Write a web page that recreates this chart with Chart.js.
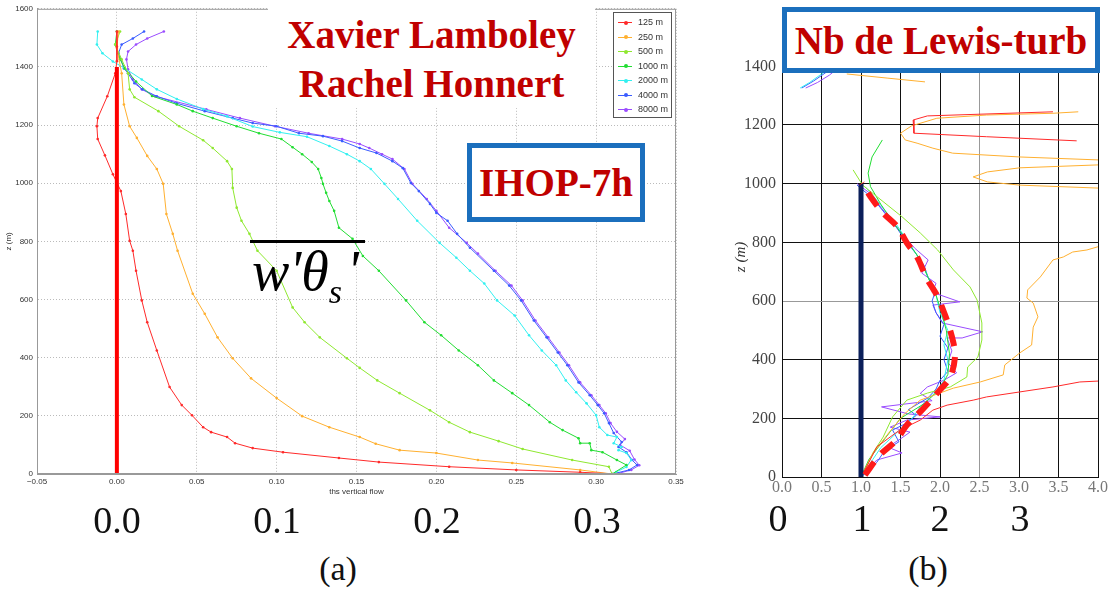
<!DOCTYPE html>
<html>
<head>
<meta charset="utf-8">
<script src="https://cdn.jsdelivr.net/npm/chart.js@4"></script>
<style>
body { margin: 0; background: #fff; }
#page { position: relative; width: 1112px; height: 589px; overflow: hidden; font-family: 'Liberation Serif', serif; }
canvas { position: absolute; }
.ovl { position: absolute; white-space: nowrap; }
.title { color: #c00000; font: bold 39px 'Liberation Serif', serif; }
.box { position: absolute; box-sizing: border-box; border: 5px solid #1b6fbd; background: #fff; display: flex; align-items: center; justify-content: center; }
.big { font: 38px 'Liberation Serif', serif; color: #111; line-height: 1; transform: translateX(-50%); }
</style>
</head>
<body>
<div id="page">
  <canvas id="fluxChart" width="690" height="500" style="left:0;top:0"></canvas>
  <canvas id="lewisChart" width="392" height="510" style="left:720px;top:0"></canvas>

  <div class="ovl" style="left:268px;top:0;width:327px;height:108px;background:#fff"></div>
  <div class="ovl title" style="left:268px;top:10px;width:327px;text-align:center;line-height:49px">Xavier Lamboley<br>Rachel Honnert</div>

  <div class="box" style="left:467px;top:143px;width:178px;height:79px"><span class="title" style="line-height:1">IHOP-7h</span></div>
  <div class="box" style="left:782px;top:7px;width:318px;height:66px"><span class="title" style="line-height:1">Nb de Lewis-turb</span></div>

  <div class="ovl" style="left:250px;top:240px;width:115px;height:3px;background:#000"></div>
  <div class="ovl" style="left:252px;top:243px;font:italic 56px 'Liberation Serif',serif;line-height:1">w'θ<span style="font-size:34px;position:relative;top:13px">s</span>&#8202;'</div>

  <div id="legendA" class="ovl" style="left:613px;top:12px;width:57px;height:104px;border:1px solid #555;background:#fff"></div>
  <div id="bottomLabels"></div>
</div>
<script>
// panel (a): vertical heat flux profiles, [flux, z]
const flux125 = [[0.000,1522],[0.000,1470],[0.000,1420],[-0.001,1378],[-0.006,1299],[-0.012,1224],[-0.0125,1196],[-0.012,1152],[-0.0075,1096],[-0.0025,1031],[0.0025,973],[0.0056,894],[0.008,802],[0.010,768],[0.012,699],[0.0156,597],[0.019,522],[0.025,425],[0.033,299],[0.0406,237],[0.047,202],[0.054,161],[0.059,144],[0.069,127],[0.074,106],[0.085,89],[0.104,75],[0.139,55],[0.164,41],[0.208,25],[0.25,14],[0.29,6],[0.313,0]];
const flux250 = [[0.001,1522],[0.000,1465],[0.003,1378],[0.0044,1271],[0.008,1196],[0.0125,1156],[0.019,1094],[0.025,1049],[0.029,998],[0.031,894],[0.035,826],[0.038,768],[0.0475,620],[0.055,551],[0.063,470],[0.0725,398],[0.084,329],[0.1,261],[0.116,199],[0.133,161],[0.152,127],[0.162,104],[0.177,82],[0.2,72],[0.226,48],[0.2475,38],[0.29,14],[0.31,0]];
const flux500 = [[0.002,1522],[-0.001,1477],[0.003,1426],[0.007,1378],[0.008,1323],[0.011,1296],[0.026,1248],[0.039,1196],[0.054,1148],[0.06,1121],[0.069,1076],[0.072,1049],[0.0725,984],[0.075,916],[0.078,871],[0.083,826],[0.088,768],[0.1,699],[0.11,573],[0.1175,522],[0.127,470],[0.144,398],[0.152,365],[0.163,322],[0.177,278],[0.196,219],[0.208,178],[0.221,144],[0.239,113],[0.254,86],[0.285,48],[0.308,25],[0.31,0]];
const flux1000 = [[0.000,1522],[-0.001,1477],[0.002,1426],[0.005,1395],[0.012,1350],[0.022,1300],[0.0375,1271],[0.0475,1248],[0.06,1224],[0.075,1196],[0.089,1172],[0.103,1152],[0.11,1124],[0.116,1100],[0.122,1073],[0.126,1049],[0.128,1018],[0.129,998],[0.131,967],[0.133,939],[0.136,905],[0.139,847],[0.1475,809],[0.154,750],[0.164,699],[0.181,597],[0.1925,522],[0.203,477],[0.214,425],[0.226,374],[0.236,322],[0.2475,278],[0.258,237],[0.271,178],[0.279,151],[0.289,123],[0.29,106],[0.296,106],[0.297,82],[0.304,75],[0.313,48],[0.319,31],[0.31,0]];
const flux2000 = [[-0.012,1522],[-0.0125,1477],[-0.009,1447],[-0.0025,1419],[0.005,1395],[0.0156,1357],[0.025,1323],[0.0375,1290],[0.054,1255],[0.069,1230],[0.085,1195],[0.102,1175],[0.119,1160],[0.133,1128],[0.144,1100],[0.152,1076],[0.159,1049],[0.1675,998],[0.176,946],[0.188,871],[0.202,795],[0.2125,744],[0.221,699],[0.23,655],[0.238,597],[0.249,545],[0.258,477],[0.266,425],[0.275,374],[0.281,322],[0.2875,281],[0.294,243],[0.3,202],[0.302,161],[0.307,134],[0.313,127],[0.311,106],[0.316,93],[0.314,82],[0.319,72],[0.322,48],[0.319,24],[0.3125,7],[0.31,0]];
const flux4000 = [[0.017,1522],[0.01,1498],[0.003,1477],[0.001,1447],[0.0025,1426],[0.0044,1395],[0.007,1378],[0.011,1344],[0.016,1323],[0.025,1299],[0.0375,1275],[0.055,1248],[0.0725,1224],[0.085,1207],[0.1,1196],[0.114,1172],[0.129,1162],[0.141,1145],[0.152,1121],[0.1625,1104],[0.1725,1076],[0.179,1052],[0.184,1001],[0.189,973],[0.196,929],[0.2,898],[0.207,871],[0.213,826],[0.221,778],[0.236,699],[0.2456,648],[0.253,597],[0.261,528],[0.269,470],[0.276,418],[0.282,374],[0.289,315],[0.296,271],[0.301,237],[0.305,209],[0.308,175],[0.311,141],[0.316,110],[0.314,93],[0.319,75],[0.3225,48],[0.3256,31],[0.3206,14],[0.3125,3]];
const flux8000 = [[0.0294,1522],[0.019,1498],[0.012,1477],[0.007,1453],[0.006,1426],[0.007,1392],[0.01,1357],[0.0156,1323],[0.024,1299],[0.056,1254],[0.077,1224],[0.099,1196],[0.12,1172],[0.141,1152],[0.152,1135],[0.158,1121],[0.166,1100],[0.1725,1083],[0.18,1049],[0.185,998],[0.194,946],[0.2,905],[0.208,847],[0.219,795],[0.226,758],[0.237,699],[0.247,648],[0.254,597],[0.262,528],[0.27,470],[0.277,418],[0.283,374],[0.29,315],[0.297,271],[0.302,237],[0.306,209],[0.309,175],[0.313,145],[0.318,120],[0.315,100],[0.321,80],[0.324,50],[0.327,30],[0.322,14],[0.314,2]];
const fluxZero = [[0,0],[0,1400]];

// panel (b): turbulent Lewis number, [ratio, z]; null = break in the line
const lewisFit = [[1.05,7],[1.24,75],[1.45,126],[1.58,177],[1.77,228],[2.0,297],[2.13,341],[2.19,409],[2.17,457],[2.1,525],[2.04,569],[1.96,620],[1.83,678],[1.71,750],[1.58,798],[1.46,853],[1.28,900],[1.15,944],[1.01,1002]];
const lewisOne = [[1,0],[1,1000]];
const lewis125 = [[1.0,0],[1.1,50],[1.2,103],[1.49,160],[1.75,194],[1.91,228],[2.09,245],[2.42,262],[2.59,273],[3.01,290],[3.43,307],[3.77,324],[4.0,327],null,[3.43,1245],[1.84,1231],[1.66,1217],[1.67,1172],[2.59,1160],[3.73,1146]];
const lewis250 = [[1.0,0],[1.15,80],[1.35,150],[1.55,215],[1.75,262],[2.17,303],[2.51,324],[2.8,348],[2.82,382],[3.01,423],[3.16,450],[3.18,511],[3.24,546],[3.18,593],[3.1,610],[3.11,638],[3.27,682],[3.43,740],[3.56,750],[3.68,767],[3.86,774],[4.0,785],null,[4.0,985],[3.01,995],[2.6,1006],[2.42,1023],[2.6,1040],[3.01,1054],[4.0,1064],null,[4.0,1081],[3.01,1091],[2.16,1104],[1.91,1121],[1.71,1138],[1.56,1149],[1.5,1172],[1.64,1197],[1.96,1223],[2.59,1234],[3.43,1240],[3.75,1245],null,[0.82,1374],[1.33,1360],[1.81,1347]];
const lewis500 = [[1.05,7],[1.07,34],[1.15,82],[1.28,136],[1.4,205],[1.58,262],[1.84,286],[2.13,307],[2.34,341],[2.35,375],[2.48,409],[2.53,467],[2.53,525],[2.47,603],[2.38,648],[2.17,706],[1.97,774],[1.75,832],[1.52,887],[1.02,995],[0.9,1047]];
const lewis1000 = [[1.0,0],[1.1,60],[1.3,130],[1.5,200],[1.8,250],[2.0,300],[2.1,350],[2.12,420],[2.08,500],[2.02,560],[1.95,620],[1.85,680],[1.75,740],[1.6,800],[1.4,870],[1.25,930],[1.12,990],[1.09,1036],[1.14,1091],[1.27,1149]];
const lewis2000 = [[1.0,0],[1.15,60],[1.25,100],[1.45,150],[1.65,200],[1.75,240],[1.95,290],[2.05,330],[2.1,400],[2.05,450],[2.1,500],[2.0,560],[1.95,620],[1.85,680],[1.75,740],[1.6,800],[1.45,860],[1.3,910],[1.15,960],[1.05,990],null,[0.23,1326],[0.35,1345],[0.48,1370],[0.61,1394]];
const lewis4000 = [[1.0,0],[1.2,50],[1.3,90],[1.48,120],[1.4,160],[1.55,180],[1.7,210],[1.6,230],[1.85,270],[1.95,300],[2.0,330],[2.1,360],[2.05,400],[2.1,440],[2.0,480],[2.05,520],[1.95,560],[1.9,600],[1.95,640],[1.85,680],[1.8,720],[1.7,760],[1.58,800],[1.45,850],[1.3,900],[1.15,950],[0.95,995],null,[0.25,1326],[0.4,1350],[0.55,1378],[0.65,1395]];
const lewis8000 = [[1.0,0],[1.2,58],[1.52,82],[1.34,102],[1.5,130],[1.62,153],[1.37,170],[1.58,194],[2.0,205],[1.6,215],[1.26,239],[1.9,260],[1.75,285],[1.84,307],[2.05,330],[2.21,355],[2.1,390],[2.15,430],[2.09,474],[2.28,474],[2.54,495],[2.03,525],[1.95,560],[1.91,586],[2.25,597],[1.9,630],[1.95,660],[1.77,695],[1.85,740],[1.68,780],[1.55,820],[1.4,870],[1.25,920],[1.1,970],[0.95,1000],null,[0.3,1326],[0.45,1345],[0.6,1370],[0.7,1392]];

const resolutions = ['125 m', '250 m', '500 m', '1000 m', '2000 m', '4000 m', '8000 m'];
const colors = ['#ff2a2a', '#ffb030', '#8fe830', '#22dd33', '#33f0f0', '#3a5cff', '#9a4cff'];
const bigTicksA = ['0.0', '0.1', '0.2', '0.3'];
const bigTicksB = ['0', '1', '2', '3'];

const toPts = arr => arr.map(p => p ? {x: p[0], y: p[1]} : {x: null, y: null});

function series(data, color, extra) {
    return Object.assign({
        data: toPts(data),
        borderColor: color,
        backgroundColor: color,
        showLine: true,
        borderWidth: 1,
        pointRadius: 0,
        tension: 0,
        spanGaps: false
    }, extra);
}

// thin frame round the plot area
const frame = {
    id: 'frame',
    afterDraw(chart, args, opts) {
        if (!opts.color) return;
        const {ctx, chartArea: a} = chart;
        ctx.save();
        ctx.strokeStyle = opts.color;
        ctx.lineWidth = 1;
        ctx.strokeRect(a.left + 0.5, a.top + 0.5, a.width - 1, a.height - 1);
        ctx.restore();
    }
};

const smallFont = {family: "'Liberation Sans', sans-serif", size: 8};
const fluxSets = [flux125, flux250, flux500, flux1000, flux2000, flux4000, flux8000];

new Chart(document.getElementById('fluxChart'), {
    type: 'scatter',
    data: {
        datasets: [series(fluxZero, '#ff0000', {borderWidth: 4})].concat(
            fluxSets.map((d, i) => series(d, colors[i], {
                label: resolutions[i], pointRadius: 1.3, pointBorderWidth: 0
            })))
    },
    options: {
        responsive: false,
        animation: false,
        layout: {padding: {top: 8, right: 14, left: 0, bottom: 0}},
        plugins: {legend: {display: false}, tooltip: {enabled: false}, frame: {color: '#999'}},
        scales: {
            x: {
                type: 'linear', min: -0.05, max: 0.35,
                ticks: {stepSize: 0.05, font: smallFont, color: '#333', padding: 3,
                        callback: v => {
                            const r = Math.round(v * 100) / 100;
                            return (r < 0 ? '\u2212' : '') + Math.abs(r).toFixed(2);
                        }},
                grid: {color: '#bbb', drawTicks: false},
                border: {color: '#999', dash: [1, 2]},
                title: {display: true, text: 'ths vertical flow', font: smallFont, color: '#333', padding: {top: 0, bottom: 3}},
                afterFit: s => { s.height = 26; }
            },
            y: {
                type: 'linear', min: 0, max: 1600,
                ticks: {stepSize: 200, font: smallFont, color: '#333', padding: 4, callback: v => String(v)},
                grid: {color: '#bbb', drawTicks: false},
                border: {color: '#999', dash: [1, 2]},
                title: {display: true, text: 'z (m)', font: smallFont, color: '#333', padding: {top: 4, bottom: 0}},
                afterFit: s => { s.width = 37; }
            }
        }
    },
    plugins: [frame]
});

const lewisSets = [lewis125, lewis250, lewis500, lewis1000, lewis2000, lewis4000, lewis8000];
const serifFont = {family: "'Liberation Serif', serif", size: 16};

new Chart(document.getElementById('lewisChart'), {
    type: 'scatter',
    data: {
        datasets: [
            series(lewisFit, '#ff1a1a', {borderWidth: 6, borderDash: [16, 11], tension: 0.35}),
            series(lewisOne, '#0b1f5a', {borderWidth: 5})
        ].concat(lewisSets.map((d, i) => series(d, colors[i], {label: resolutions[i]})))
    },
    options: {
        responsive: false,
        animation: false,
        layout: {padding: {top: 37, right: 14, left: 0, bottom: 0}},
        plugins: {legend: {display: false}, tooltip: {enabled: false}},
        scales: {
            x: {
                type: 'linear', min: 0, max: 4,
                ticks: {stepSize: 0.5, font: serifFont, color: '#777', padding: 1,
                        callback: v => Number(v).toFixed(1)},
                grid: {color: c => c.tick && c.tick.value === 2.5 ? '#999' : '#111', drawTicks: false},
                border: {color: '#111'},
                afterFit: s => { s.height = 33; }
            },
            y: {
                type: 'linear', min: 0, max: 1500,
                afterBuildTicks: s => { s.ticks = s.ticks.filter(t => t.value % 200 === 0); },
                ticks: {stepSize: 200, font: serifFont, color: '#444', padding: 6, callback: v => String(v)},
                grid: {color: c => c.tick && c.tick.value === 600 ? '#999' : '#111', drawTicks: false},
                border: {color: '#111'},
                title: {display: true, text: 'z (m)', color: '#333',
                        font: {family: "'Liberation Serif', serif", size: 15, style: 'italic'},
                        padding: {top: 12, bottom: 0}},
                afterFit: s => { s.width = 62; }
            }
        }
    }
});

// legend of panel (a)
const legend = document.getElementById('legendA');
resolutions.forEach((name, i) => {
    const row = document.createElement('div');
    row.style.cssText = 'position:absolute;left:4px;top:' + (3 + i * 14.5) + 'px;height:12px;width:54px';
    row.innerHTML =
        '<div style="position:absolute;left:0;top:6px;width:14px;height:1px;background:' + colors[i] + '"></div>' +
        '<div style="position:absolute;left:5.5px;top:4.5px;width:4px;height:4px;border-radius:2px;background:' + colors[i] + '"></div>' +
        '<div style="position:absolute;left:20px;top:0;font:9px \'Liberation Sans\',sans-serif;line-height:12px;color:#333;white-space:nowrap">' + name + '</div>';
    legend.appendChild(row);
});

// large hand-written axis values under each panel and the panel letters
const bottom = document.getElementById('bottomLabels');
function bigLabel(text, cx, baseline, size) {
    const el = document.createElement('div');
    el.className = 'ovl big';
    el.style.fontSize = size + 'px';
    el.style.left = cx + 'px';
    el.style.top = (baseline - 0.8375 * size) + 'px';
    el.textContent = text;
    bottom.appendChild(el);
}
[117, 277, 437, 597].forEach((x, i) => bigLabel(bigTicksA[i], x, 533, 38));
[778, 862, 940, 1020].forEach((x, i) => bigLabel(bigTicksB[i], x, 531, 38));
bigLabel('(a)', 338, 580, 34);
bigLabel('(b)', 928, 580, 34);
</script>
</body>
</html>
